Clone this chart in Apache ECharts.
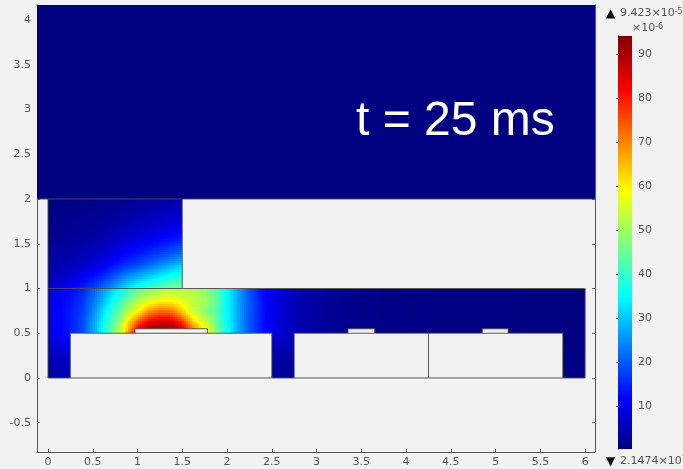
<!DOCTYPE html>
<html><head><meta charset="utf-8">
<style>html,body{margin:0;padding:0;background:#f2f2f2;overflow:hidden}#c{width:683px;height:469px}</style>
<script src="https://cdn.jsdelivr.net/npm/echarts@6/dist/echarts.min.js"></script>
</head><body><div id="c"></div>
<script>
const _ = null;
const xMin = -0.123, xMax = 6.11, yMin = -0.827, yMax = 4.168;
const xTicks = [0,0.5,1,1.5,2,2.5,3,3.5,4,4.5,5,5.5,6];
const yTicks = [-0.5,0,0.5,1,1.5,2,2.5,3,3.5,4];
const barTicks = [10,20,30,40,50,60,70,80,90];
const barMin = 0.2, barMax = 94.23;
const colorValues = [0.2,11.8,35,59,82,94.23];
const colorRGB = [[0,0,128],[0,0,255],[0,255,255],[255,255,0],[255,0,0],[128,0,0]];

// Concentration at mesh nodes (x10^-6)
const lowerX = [0,.125,.25,.375,.5,.625,.75,.875,1,1.125,1.25,1.375,1.5,1.625,1.75,1.875,2,2.125,2.25,2.375,2.5,2.625,2.75,2.875,3,3.125,3.25,3.375,3.5,4.5,5.75,6];
const lowerY = [1,.875,.75,.625,.5,.25,0];
const lowerField = [
 [8,10,12,15,20,26,32,38,44,48,51,52,52,52,49,43,35,27,19,13,10,7.5,5.5,4,3,2.3,1.8,1.3,1,.4,.3,.3],
 [9,11,13,16,22,29,37,44,51,55,58,58,56,53,50,44,35,27,20,13.5,10,7.5,5.5,4,3,2.3,1.8,1.3,1,.4,.3,.3],
 [9,11.5,14,17,24,33,41,50,59,68,72,71,63,54,48,43,35,27,20,14,10,7.5,5.5,4,3,2.3,1.8,1.3,1,.4,.3,.3],
 [9,11.5,14,18,26,36,45,59,74,84,87,86,78,63,54,45,35,27,20,14,10,7.5,5.5,4,3,2.3,1.8,1.3,1,.4,.3,.3],
 [9,11.5,14,18,27,37,48,63,88,94,94,94,90,76,60,48,36,27,20,14,10,7,5,4,3,2.3,1.8,1.3,1,.4,.3,.3],
 [5.5,6,7,_,_,_,_,_,_,_,_,_,_,_,_,_,_,_,_,_,4,3.5,3,_,_,_,_,_,_,_,.4,.4],
 [3.5,4,5,_,_,_,_,_,_,_,_,_,_,_,_,_,_,_,_,_,3,2.5,2,_,_,_,_,_,_,_,.3,.3]
];
const upperX = [0,.125,.25,.375,.5,.625,.75,.875,1,1.125,1.25,1.375,1.5];
const upperY = [2,1.875,1.75,1.625,1.5,1.375,1.25,1.125,1];
const upperField = [
 [.5,.6,.7,.8,1,1.3,1.6,2,2.4,2.8,3.2,3.7,4.5],
 [.8,.9,1,1.3,1.6,2,2.4,2.9,3.6,4.2,4.8,5.4,6],
 [1,1.2,1.5,1.8,2.2,2.7,3.4,4.2,5,6,7,8,9],
 [1.5,1.8,2,2.5,3,3.8,5,6,7.5,8.5,10,11,12.5],
 [2.2,2.5,3,3.5,4.5,5.5,7,9,10.5,12,13.5,15,16.5],
 [3,3.5,4,5,6,7.5,10,12,14,16,18,20,23],
 [4,4.5,5.5,7,8.5,11,14,16.5,19,22,25,28,31],
 [5,6,8,10.5,13,16,20,24.5,28,31,34,37,39],
 [7,9,12,15,18,22,27,33,38,42,45,47,48]
];
const topX = [xMin,xMax];
const topY = [yMax,2];
const topField = [[.25,.25],[.25,.25]];

const electrodes = [[.97,.5,1.78,.55],[3.35,.5,3.65,.55],[4.85,.5,5.14,.55]];
const outlines = [
 [[0,2],[0,0],[.25,0],[.25,.5],[.97,.5],[.97,.55],[1.78,.55],[1.78,.5],[2.5,.5],[2.5,0],[2.75,0],[2.75,.5],[3.35,.5],[3.35,.55],[3.65,.55],[3.65,.5],[4.85,.5],[4.85,.55],[5.14,.55],[5.14,.5],[5.75,.5],[5.75,0],[6,0],[6,1],[1.5,1],[1.5,2]],
 [[xMin,2],[xMax,2]],
 [[0,1],[1.5,1]],
 [[.25,0],[2.5,0]],
 [[2.75,0],[5.75,0]],
 [[4.25,0],[4.25,.5]],
 [[.97,.5],[1.78,.5]],
 [[3.35,.5],[3.65,.5]],
 [[4.85,.5],[5.14,.5]]
];
const timeLabel = 't = 25 ms';

function colorOf(v){
  v = Math.max(colorValues[0], Math.min(colorValues[colorValues.length-1], v));
  let i = 0;
  while (i < colorValues.length-2 && v > colorValues[i+1]) i++;
  const t = (v-colorValues[i])/(colorValues[i+1]-colorValues[i]);
  const a = colorRGB[i], b = colorRGB[i+1];
  return 'rgb('+Math.round(a[0]+(b[0]-a[0])*t)+','+Math.round(a[1]+(b[1]-a[1])*t)+','+Math.round(a[2]+(b[2]-a[2])*t)+')';
}
function cells(xs, ys, rows){
  const out = [];
  for (let r=0;r<ys.length-1;r++) for (let c=0;c<xs.length-1;c++){
    const q=[rows[r][c],rows[r][c+1],rows[r+1][c],rows[r+1][c+1]];
    if (q.some(v=>v===null)) continue;
    out.push([xs[c],ys[r],xs[c+1],ys[r+1],q[0],q[1],q[2],q[3]]);
  }
  return out;
}
const fieldData = cells(topX,topY,topField).concat(cells(lowerX,lowerY,lowerField),cells(upperX,upperY,upperField));

function renderCell(params, api){
  const p0 = api.coord([api.value(0),api.value(1)]);
  const p1 = api.coord([api.value(2),api.value(3)]);
  const L=Math.round(p0[0]),T=Math.round(p0[1]),R=Math.round(p1[0]),B=Math.round(p1[1]);
  const a=api.value(4),b=api.value(5),c=api.value(6),d=api.value(7);
  if (a===b&&b===c&&c===d) return {type:'rect',shape:{x:L,y:T,width:R-L,height:B-T},style:{fill:colorOf(a)}};
  const step=2, kids=[];
  for(let y=T;y<B;y+=step)for(let x=L;x<R;x+=step){
    const u=(x+step/2-L)/(R-L), w=(y+step/2-T)/(B-T);
    const top=a+(b-a)*u, bot=c+(d-c)*u;
    kids.push({type:'rect',shape:{x:x,y:y,width:Math.min(step,R-x),height:Math.min(step,B-y)},style:{fill:colorOf(top+(bot-top)*w)}});
  }
  return {type:'group',children:kids};
}
function renderElectrode(params, api){
  const p0=api.coord([api.value(0),api.value(3)]), p1=api.coord([api.value(2),api.value(1)]);
  return {type:'rect',shape:{x:p0[0],y:p0[1],width:p1[0]-p0[0],height:p1[1]-p0[1]},style:{fill:'#f2f2f2'}};
}
function renderBar(params, api){
  const p0=api.coord([0,api.value(1)]), p1=api.coord([1,api.value(0)]);
  const n=colorValues.length, stops=[];
  for(let i=0;i<n;i++) stops.push({offset:(colorValues[n-1-i]-barMin)/(barMax-barMin)*-1+1,color:colorOf(colorValues[n-1-i])});
  return {type:'rect',shape:{x:p0[0],y:p0[1],width:p1[0]-p0[0],height:p1[1]-p0[1]},
    style:{fill:new echarts.graphic.LinearGradient(0,0,0,1,stops)}};
}
const grey='#555555', font='DejaVu Sans';
const mainAxis=(extra,vals)=>Object.assign({type:'value',gridIndex:0,splitLine:{show:false},
  axisLine:{show:true,onZero:false,lineStyle:{color:grey,width:1}},
  axisTick:{show:true,inside:true,length:3,customValues:vals,lineStyle:{color:grey}}},extra);
const label=(vals,extra)=>Object.assign({show:true,customValues:vals,color:grey,fontFamily:font,fontSize:11,margin:6,formatter:v=>String(v)},extra);
const option={
  backgroundColor:'#f2f2f2',animation:false,
  grid:[{left:37,right:88,top:5,bottom:17},{left:618,width:14,top:36,height:413}],
  xAxis:[
    mainAxis({position:'bottom',min:xMin,max:xMax,axisLabel:label(xTicks,{margin:5})},xTicks),
    mainAxis({position:'top',min:xMin,max:xMax,axisLabel:{show:false}},xTicks),
    {type:'value',gridIndex:1,min:0,max:1,show:false}
  ],
  yAxis:[
    mainAxis({position:'left',min:yMin,max:yMax,axisLabel:label(yTicks,{padding:[2,0,0,0]})},yTicks),
    mainAxis({position:'right',min:yMin,max:yMax,axisLabel:{show:false}},yTicks),
    {type:'value',gridIndex:1,position:'right',min:barMin,max:barMax,splitLine:{show:false},
     axisLine:{show:true,lineStyle:{color:'#777'}},
     axisTick:{show:true,inside:true,length:2,customValues:barTicks,lineStyle:{color:'#333'}},
     axisLabel:{show:true,customValues:barTicks,color:grey,fontFamily:font,fontSize:11,margin:6,padding:[2,0,0,0]}},
    {type:'value',gridIndex:1,position:'left',min:barMin,max:barMax,splitLine:{show:false},
     axisLine:{show:true,lineStyle:{color:'#777'}},
     axisTick:{show:true,inside:true,length:2,customValues:barTicks,lineStyle:{color:'#333'}},
     axisLabel:{show:false}}
  ],
  series:[
    {type:'custom',name:'field',coordinateSystem:'cartesian2d',xAxisIndex:0,yAxisIndex:0,data:fieldData,renderItem:renderCell,silent:true,clip:true,z:1},
    {type:'custom',name:'electrodes',coordinateSystem:'cartesian2d',xAxisIndex:0,yAxisIndex:0,data:electrodes,renderItem:renderElectrode,silent:true,z:2},
    {type:'custom',name:'colorbar',coordinateSystem:'cartesian2d',xAxisIndex:2,yAxisIndex:2,data:[[barMin,barMax]],renderItem:renderBar,silent:true,z:1}
  ].concat(outlines.map((o,i)=>({type:'line',name:'edge'+i,xAxisIndex:0,yAxisIndex:0,data:o,symbol:'none',silent:true,z:3,
    lineStyle:{color:'#4a4a4a',width:1,opacity:.9}}))),
  graphic:[
    {type:'text',left:356,top:98,z:10,style:{text:timeLabel,fill:'#fff',font:'48px "Liberation Sans"'}},
    {type:'text',x:606,y:8,z:10,style:{fill:'#111',font:'12px "DejaVu Sans"',text:'▲'}},
    {type:'text',x:620,y:8,z:10,style:{text:'{a|9.423×10}{s|-5}',rich:{a:{fill:grey,fontFamily:font,fontSize:11},s:{fill:grey,fontFamily:font,fontSize:8,verticalAlign:'top'}}}},
    {type:'text',x:632,y:23,z:10,style:{text:'{a|×10}{s|-6}',rich:{a:{fill:grey,fontFamily:font,fontSize:11},s:{fill:grey,fontFamily:font,fontSize:8,verticalAlign:'top'}}}},
    {type:'text',x:606,y:456,z:10,style:{fill:'#111',font:'12px "DejaVu Sans"',text:'▼'}},
    {type:'text',x:620,y:456,z:10,style:{text:'{a|2.1474×10}{s|7}',rich:{a:{fill:grey,fontFamily:font,fontSize:11},s:{fill:grey,fontFamily:font,fontSize:8,verticalAlign:'top'}}}}
  ]
};
const chart=echarts.init(document.getElementById('c'),null,{renderer:'canvas'});
chart.setOption(option);
</script></body></html>
